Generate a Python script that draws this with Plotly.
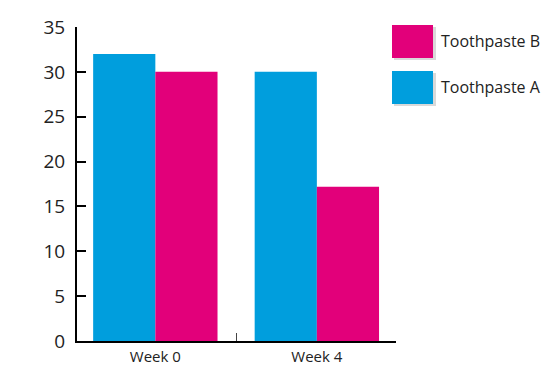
import plotly.graph_objects as go

categories = ["Week 0", "Week 4"]
toothpaste_a = [32, 30]
toothpaste_b = [30, 17.2]
y_ticks = [0, 5, 10, 15, 20, 25, 30, 35]
series_names = ["Toothpaste A", "Toothpaste B"]

BLUE = "#009EDD"
PINK = "#E2007A"

W, H = 547, 369
L, R, T, B = 77, 151, 27, 28
pw, ph = W - L - R, H - T - B

def px(x):
    return (x - L) / pw

def py(y):
    return (H - B - y) / ph

fig = go.Figure()
fig.add_trace(go.Bar(x=categories, y=toothpaste_a, name=series_names[0],
                     marker=dict(color=BLUE, line=dict(width=0))))
fig.add_trace(go.Bar(x=categories, y=toothpaste_b, name=series_names[1],
                     marker=dict(color=PINK, line=dict(width=0))))

shapes = []
annotations = []
legend_items = [(series_names[1], PINK, 25, 58), (series_names[0], BLUE, 71, 104)]
for name, col, y0, y1 in legend_items:
    shapes.append(dict(type="rect", xref="paper", yref="paper",
                       x0=px(394), x1=px(436), y0=py(y1 + 2), y1=py(y0 + 2),
                       fillcolor="rgba(0,0,0,0.15)", line=dict(width=0), layer="above"))
    shapes.append(dict(type="rect", xref="paper", yref="paper",
                       x0=px(392), x1=px(433), y0=py(y1), y1=py(y0),
                       fillcolor=col, line=dict(width=0), layer="above"))
    annotations.append(dict(text=name, xref="paper", yref="paper",
                            x=px(439), y=py((y0 + y1) / 2 - 1), xanchor="left", yanchor="middle",
                            showarrow=False, font=dict(size=16, color="#222")))

fig.update_layout(
    width=W, height=H,
    margin=dict(l=L, r=R, t=T, b=B),
    paper_bgcolor="white", plot_bgcolor="white",
    barmode="group", bargap=0.23, bargroupgap=0,
    showlegend=False,
    font=dict(family="Open Sans, sans-serif", color="#222"),
    shapes=shapes, annotations=annotations,
    xaxis=dict(range=[-0.485, 1.49], showline=True, linecolor="black", linewidth=2,
               ticks="inside", tickson="boundaries", ticklen=8, tickcolor="#444", tickwidth=1,
               tickfont=dict(size=15, color="#222"), showgrid=False, zeroline=False,
               ticklabelstandoff=1, automargin=False),
    yaxis=dict(range=[0, 35], tickvals=y_ticks, showline=True, linecolor="black", linewidth=2,
               ticks="inside", ticklen=9, tickcolor="black", tickwidth=1.5,
               tickfont=dict(size=19, color="#222"), showgrid=False, zeroline=False,
               ticklabelstandoff=6, automargin=False),
)

fig.write_html("out.html")
